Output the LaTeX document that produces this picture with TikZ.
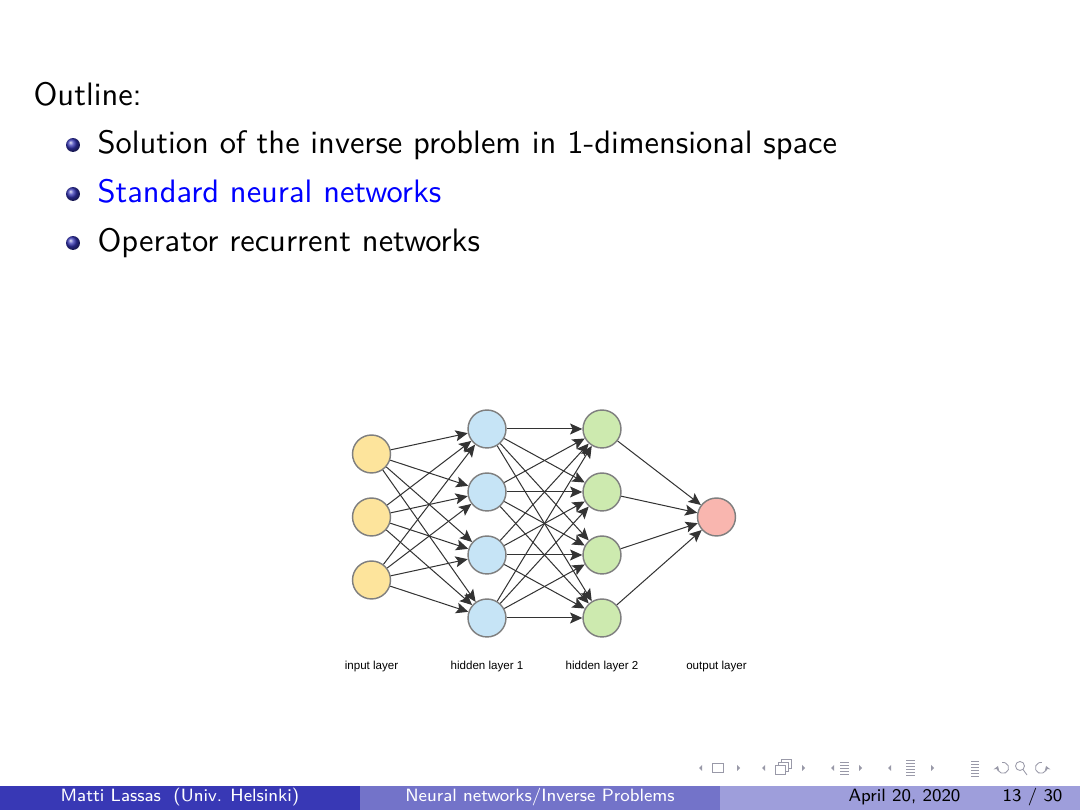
\documentclass[tikz,border=0pt]{standalone}
\usepackage{fontspec}
\newfontfamily\arialfont{Liberation Sans}
\usetikzlibrary{arrows.meta}
\definecolor{struct}{rgb}{0.2,0.2,0.7}
\definecolor{footA}{rgb}{0.22,0.22,0.71}
\definecolor{footB}{rgb}{0.45,0.45,0.79}
\definecolor{footC}{rgb}{0.62,0.62,0.86}
\definecolor{navcol}{rgb}{0.60,0.60,0.66}
\definecolor{inYel}{HTML}{FDE49C}
\definecolor{hidBlue}{HTML}{C6E4F6}
\definecolor{hidGreen}{HTML}{CDEAAF}
\definecolor{outPink}{HTML}{F9B6AF}
\definecolor{ringcol}{HTML}{7F7F7F}
\newcommand{\bodyfont}{\sffamily\fontsize{10.95pt}{13pt}\selectfont}
\newcommand{\footfont}{\sffamily\fontsize{6pt}{7pt}\selectfont}
\newcommand{\labfont}{\arialfont\fontsize{3.9pt}{4.5pt}\selectfont}
\tikzset{
  body/.style={anchor=base west, inner sep=0pt, font=\bodyfont},
  ballet/.style={circle, inner sep=0pt, minimum size=1.65mm, ball color=struct},
  neuron/.style={circle, inner sep=0pt, minimum size=4.5mm, draw=ringcol, line width=0.17mm},
  inn/.style={neuron, fill=inYel},
  hida/.style={neuron, fill=hidBlue},
  hidb/.style={neuron, fill=hidGreen},
  outn/.style={neuron, fill=outPink},
  arr/.style={-{Stealth[length=1.45mm,width=1.3mm,inset=0.3mm]}, line width=0.12mm, draw=black!80},
  lab/.style={anchor=base, inner sep=0pt, font=\labfont},
  foottxt/.style={anchor=base, inner sep=0pt, font=\footfont},
  nav/.style={draw=navcol, line width=0.1mm},
  navtip/.style={nav, {Stealth[length=0.55mm,width=0.7mm]}-},
}
\begin{document}
\begin{tikzpicture}[x=0.1185185mm,y=-0.1185185mm]
\useasboundingbox (0,0) rectangle (1080,810);
\fill[white] (0,0) rectangle (1080,810);

% outline text
\node[body] (outl) at (33,106) {Outline:};
\node[ballet] (b1) at (73,145) {};
\node[ballet] (b2) at (73,194) {};
\node[ballet] (b3) at (73,243) {};
\node[body] (t1) at (97,154) {Solution of the inverse problem in 1-dimensional space};
\node[body, text=blue] (t2) at (97,203) {Standard neural networks};
\node[body] (t3) at (97,252) {Operator recurrent networks};

% network
\node[inn] (i1) at (371.5,454) {};
\node[inn] (i2) at (371.5,517) {};
\node[inn] (i3) at (371.5,580) {};
\node[hida] (a1) at (487,429) {};
\node[hida] (a2) at (487,492) {};
\node[hida] (a3) at (487,555) {};
\node[hida] (a4) at (487,618) {};
\node[hidb] (c1) at (602,429) {};
\node[hidb] (c2) at (602,492) {};
\node[hidb] (c3) at (602,555) {};
\node[hidb] (c4) at (602,618) {};
\node[outn] (o1) at (716.5,517) {};
\foreach \s in {i1,i2,i3}{
  \foreach \t in {a1,a2,a3,a4}{
    \draw[arr] (\s) -- (\t);
  }
}
\foreach \s in {a1,a2,a3,a4}{
  \foreach \t in {c1,c2,c3,c4}{
    \draw[arr] (\s) -- (\t);
  }
}
\foreach \s in {c1,c2,c3,c4}{
  \draw[arr] (\s) -- (o1);
}
\node[lab] (l1) at (371.5,670) {input layer};
\node[lab] (l2) at (487,670) {hidden layer 1};
\node[lab] (l3) at (602,670) {hidden layer 2};
\node[lab] (l4) at (716.5,670) {output layer};

% navigation symbols
\begin{scope}
\fill[navcol] (699,768) -- (702,765) -- (702,771) -- cycle;
\draw[nav] (712,763) rectangle (723,772);
\fill[navcol] (740,768) -- (737,765) -- (737,771) -- cycle;
\fill[navcol] (762,768) -- (765,765) -- (765,771) -- cycle;
\draw[nav] (775,765) rectangle (785,774);
\draw[nav] (778,765) -- (778,762) -- (788,762) -- (788,771) -- (785,771);
\draw[nav] (781,762) -- (781,759) -- (791,759) -- (791,768) -- (788,768);
\fill[navcol] (805,768) -- (802,765) -- (802,771) -- cycle;
\fill[navcol] (831,768) -- (834,765) -- (834,771) -- cycle;
\foreach \yy in {762,765,768,771,774}{\draw[nav] (840,\yy) -- (849,\yy);}
\fill[navcol] (862,768) -- (859,765) -- (859,771) -- cycle;
\fill[navcol] (888,768) -- (891,765) -- (891,771) -- cycle;
\foreach \yy in {760,763,766,769,772,775}{\draw[nav] (906,\yy) -- (915,\yy);}
\fill[navcol] (934,768) -- (931,765) -- (931,771) -- cycle;
\foreach \yy in {761,764,767,770,773,776}{\draw[nav] (971,\yy) -- (979,\yy);}
\draw[navtip] (998,766) arc (200:-100:5.5);
\draw[nav] (1020,766) circle (4.5);
\draw[nav] (1023,769.5) -- (1027,775);
\draw[navtip] (1046,766) arc (-20:280:5.5);
\end{scope}

% footer
\fill[footA] (0,786) rectangle (360,810);
\fill[footB] (360,786) rectangle (720,810);
\fill[footC] (720,786) rectangle (1080,810);
\node[foottxt, text=white] (fa) at (180,802) {Matti Lassas~~(Univ. Helsinki)};
\node[foottxt, text=white] (fb) at (540,802) {Neural networks/Inverse Problems};
\node[foottxt, text=black, anchor=base west] (fc) at (848,802) {April 20, 2020};
\node[foottxt, text=black, anchor=base east] (fd) at (1063,802) {13 / 30};
\end{tikzpicture}
\end{document}
